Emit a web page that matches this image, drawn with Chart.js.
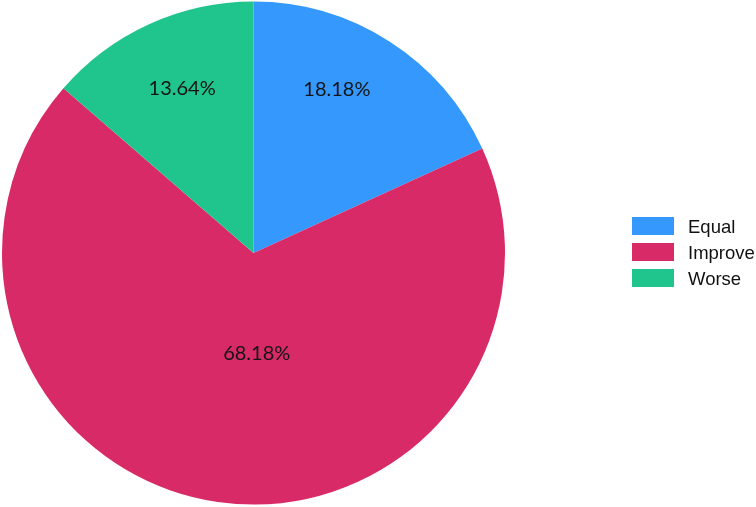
<!DOCTYPE html>
<html><head><meta charset="utf-8">
<script src="https://cdn.jsdelivr.net/npm/chart.js@4"></script>
<style>html,body{margin:0;padding:0;background:#fff;}#wrap{position:relative;width:756px;height:507px;}</style>
</head><body><div id="wrap"><canvas id="c"></canvas></div>
<script>
const categories = ["Equal", "Improve", "Worse"];
const counts = [4, 15, 3];
const percentLabels = ["18.18%", "68.18%", "13.64%"];
const colors = ["#3498fd", "#d72a66", "#20c48d"];
// label placement: radial fraction and angular nudge (degrees) per slice
const labelRadius = [0.725, 0.405, 0.71];
const labelAngleNudge = [-5.5, -10, 1];

const labelPlugin = {
  id: 'sliceLabels',
  afterDatasetsDraw(chart) {
    const ctx = chart.ctx;
    const meta = chart.getDatasetMeta(0);
    ctx.save();
    ctx.font = '20px Lato';
    ctx.fillStyle = '#141414';
    ctx.textAlign = 'center';
    ctx.textBaseline = 'middle';
    meta.data.forEach((arc, i) => {
      const p = arc.getProps(['x','y','startAngle','endAngle','outerRadius'], true);
      const a = (p.startAngle + p.endAngle) / 2 + labelAngleNudge[i] * Math.PI / 180;
      const r = p.outerRadius * labelRadius[i];
      ctx.fillText(percentLabels[i], p.x + Math.cos(a) * r, p.y + Math.sin(a) * r - 1);
    });
    ctx.restore();
  }
};

const legendPlugin = {
  id: 'sideLegend',
  afterDraw(chart) {
    const ctx = chart.ctx;
    const x0 = 632, y0 = 217, boxW = 42, boxH = 18, step = 26;
    ctx.save();
    ctx.font = '18.5px "Liberation Sans"';
    ctx.textBaseline = 'middle';
    ctx.textAlign = 'left';
    categories.forEach((c, i) => {
      const y = y0 + i * step;
      ctx.fillStyle = colors[i];
      ctx.fillRect(x0, y, boxW, boxH);
      ctx.fillStyle = '#111111';
      ctx.fillText(c, 688, y + boxH / 2 + 2);
    });
    ctx.restore();
  }
};

new Chart(document.getElementById('c'), {
  type: 'pie',
  data: {
    labels: categories,
    datasets: [{ data: counts, backgroundColor: colors, borderWidth: 0 }]
  },
  options: {
    responsive: true,
    maintainAspectRatio: false,
    animation: false,
    layout: { padding: { left: 2, top: 1, bottom: 2, right: 251 } },
    plugins: { legend: { display: false }, tooltip: { enabled: false } }
  },
  plugins: [labelPlugin, legendPlugin]
});
</script></body></html>
